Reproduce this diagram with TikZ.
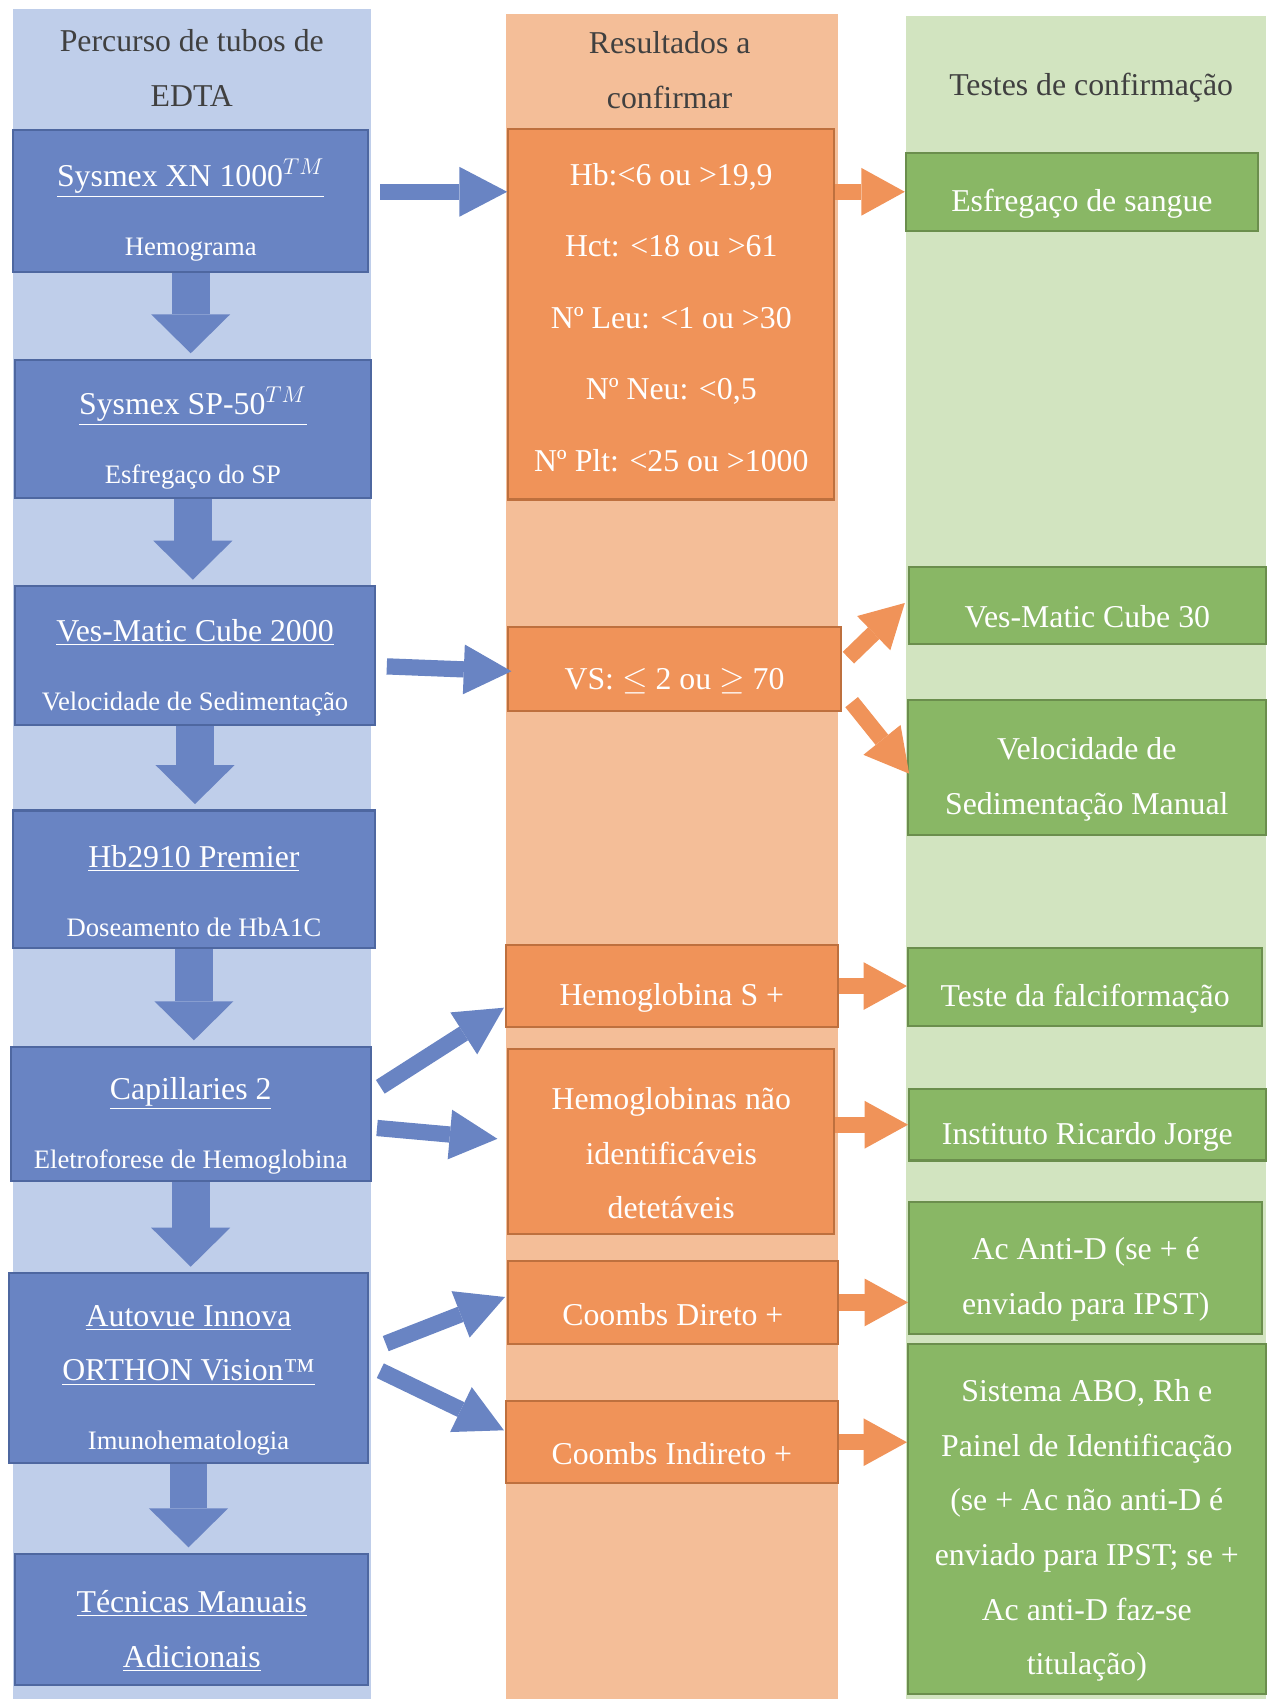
\documentclass[tikz,border=0pt]{standalone}
\usepackage{fontspec}
\setmainfont{Liberation Serif}
\usepackage{tikz}
\usetikzlibrary{arrows.meta,positioning,calc}
\definecolor{bluebg}    {RGB}{191,206,234}
\definecolor{bluebox}   {RGB}{105,132,195}
\definecolor{bluedraw}  {RGB}{78,103,160}
\definecolor{orangebg}  {RGB}{244,190,152}
\definecolor{orangebox} {RGB}{240,147,89}
\definecolor{orangedraw}{RGB}{190,112,62}
\definecolor{greenbg}   {RGB}{210,228,192}
\definecolor{greenbox}  {RGB}{137,183,101}
\definecolor{greendraw} {RGB}{107,142,77}
\definecolor{headgray}  {RGB}{64,64,64}
\newcommand{\fbig}{\fontsize{16.7}{28.7}\selectfont}
\newcommand{\fsmall}{\fontsize{14}{28.7}\selectfont}
\newcommand{\tstrut}{\rule{0pt}{24pt}}
\tikzset{
  basebox/.style 2 args={draw, line width=1.1pt, align=center, text=white,
                  font=\fbig, inner sep=0pt,
                  minimum width=#1*0.02cm, minimum height=#2*0.02cm},
  lbox/.style 2 args={basebox={#1}{#2}, fill=bluebox,   draw=bluedraw},
  mbox/.style 2 args={basebox={#1}{#2}, fill=orangebox, draw=orangedraw},
  rbox/.style 2 args={basebox={#1}{#2}, fill=greenbox,  draw=greendraw},
  headtxt/.style={align=center, text=headgray, font=\fbig, inner sep=0pt},
}

\begin{document}
\begin{tikzpicture}[x=0.02cm, y=-0.02cm,
  dnarr/.style={draw=bluebox, line width=0.7cm, shorten >=0.1cm,
                -{Triangle[length=0.72cm, width=1.46cm, line width=0pt]}},
  barr/.style={draw=bluebox, line width=0.3cm,
               -{Triangle[length=0.88cm, width=0.92cm, line width=0pt]}},
  oarr/.style={draw=orangebox, line width=0.3cm,
               -{Triangle[length=0.8cm, width=0.88cm, line width=0pt]}},
]
  \useasboundingbox (0,0) rectangle (1174,1568);

  %% column backgrounds
  \fill[bluebg]   (12,8)   rectangle (342,1568);
  \fill[orangebg] (467,13) rectangle (773,1568);
  \fill[greenbg]  (836,15) rectangle (1168,1568);

  \node[headtxt] (hl) at (177,63) {Percurso de tubos de\\EDTA};
  \node[headtxt] (hm) at (618,65) {Resultados a\\confirmar};
  \node[headtxt] (hr) at (1007,81) {Testes de confirmação};

  %% EDTA tube path
  \node[lbox={328}{131}] (sx) at (176,185.5)
        {\tstrut\underline{Sysmex XN 1000$^{TM}$}\\[7.5pt]{\fsmall Hemograma}};
  \node[lbox={328}{128}] (sp) at (178,396)
        {\tstrut\underline{Sysmex SP-50$^{TM}$}\\[7.5pt]{\fsmall Esfregaço do SP}};
  \node[lbox={332}{128}] (ves) at (180,605)
        {\tstrut\underline{Ves-Matic Cube 2000}\\[7.5pt]{\fsmall Velocidade de Sedimentação}};
  \node[lbox={334}{127}] (hb) at (179,811.5)
        {\tstrut\underline{Hb2910 Premier}\\[7.5pt]{\fsmall Doseamento de HbA1C}};
  \node[lbox={332}{124}] (cap) at (176,1028)
        {\tstrut\underline{Capillaries 2}\\[7.5pt]{\fsmall Eletroforese de Hemoglobina}};
  \node[lbox={332}{175}] (auto) at (174,1262.5)
        {\tstrut\underline{Autovue Innova}\\\underline{ORTHON Vision™}\\[7.5pt]{\fsmall Imunohematologia}};
  \node[lbox={326}{121}] (tec) at (177,1494.5)
        {\tstrut\underline{Técnicas Manuais}\\\underline{Adicionais}};

  %% results to confirm
  \node[mbox={301}{342}, font=\fontsize{16.7}{37.5}\selectfont] (m1) at (619.5,290)
        {\rule{0pt}{15pt}Hb:<6 ou >19,9\\Hct: <18 ou >61\\Nº Leu: <1 ou >30\\Nº Neu: <0,5\\Nº Plt: <25 ou >1000};
  \node[mbox={307}{77}]  (vs)   at (622.5,617.5) {\tstrut VS: $\leq$ 2 ou $\geq$ 70};
  \node[mbox={306}{76}]  (hbs)  at (620,910)     {\tstrut Hemoglobina S +};
  \node[mbox={301}{171}] (hnid) at (619.5,1053.5)
        {\tstrut Hemoglobinas não\\identificáveis\\detetáveis};
  \node[mbox={304}{76}]  (cd)   at (621,1202)    {\tstrut Coombs Direto +};
  \node[mbox={306}{76}]  (ci)   at (620,1331)    {\tstrut Coombs Indireto +};

  %% confirmation tests
  \node[rbox={325}{72}]  (esf)  at (998.5,177)   {\tstrut Esfregaço de sangue};
  \node[rbox={329}{71}]  (vm30) at (1003.5,558.5) {\tstrut Ves-Matic Cube 30};
  \node[rbox={330}{125}] (vel)  at (1003,708.5)  {\tstrut Velocidade de\\Sedimentação Manual};
  \node[rbox={327}{72}]  (tfal) at (1001.5,911)  {\tstrut Teste da falciformação};
  \node[rbox={329}{66}]  (irj)  at (1003.5,1038) {\tstrut Instituto Ricardo Jorge};
  \node[rbox={326}{122}] (acd)  at (1002,1170)
        {\tstrut Ac Anti-D (se + é\\enviado para IPST)};
  \node[rbox={330}{323}] (abo)  at (1003,1401.5)
        {\tstrut Sistema ABO, Rh e\\Painel de Identificação\\(se + Ac não anti-D é\\enviado para IPST; se +\\Ac anti-D faz-se\\titulação)};

  %% arrows
  \foreach \a/\b in {sx/sp, sp/ves, ves/hb, hb/cap, cap/auto, auto/tec}
    \draw[dnarr] (\a.south) -- (\a.south |- \b.north);

  \coordinate (a1) at ($(sx.east)+(10,-8.5)$);
  \draw[barr] (a1) -- (a1 -| m1.west);
  \draw[barr] ($(ves.east)+(10,10)$)     -- ($(vs.west)+(4,2)$);
  \draw[barr] ($(cap.east)+(8,-25)$)     -- ($(hbs.west)+(-1,20)$);
  \draw[barr] ($(cap.east)+(5,13)$)      -- ($(hnid.west)+(-9,-2.5)$);
  \draw[barr] ($(auto.east)+(15,-22.5)$) -- ($(cd.west)+(-2,-5)$);
  \draw[barr] ($(auto.east)+(10,2.5)$)   -- ($(ci.west)+(-1,-11)$);

  \draw[oarr] (m1.east |- esf.west)   -- (esf.west);
  \draw[oarr] ($(vs.east)+(6,-10.5)$) -- ($(vm30.west)+(-3,-2)$);
  \draw[oarr] ($(vs.east)+(9,30.5)$)  -- ($(vel.west)+(2,5.5)$);
  \draw[oarr] (hbs.east)              -- (tfal.west |- hbs.east);
  \draw[oarr] (hnid.east |- irj.west) -- (irj.west);
  \draw[oarr] (cd.east)               -- (acd.west |- cd.east);
  \draw[oarr] (ci.east)               -- (abo.west |- ci.east);
\end{tikzpicture}
\end{document}
